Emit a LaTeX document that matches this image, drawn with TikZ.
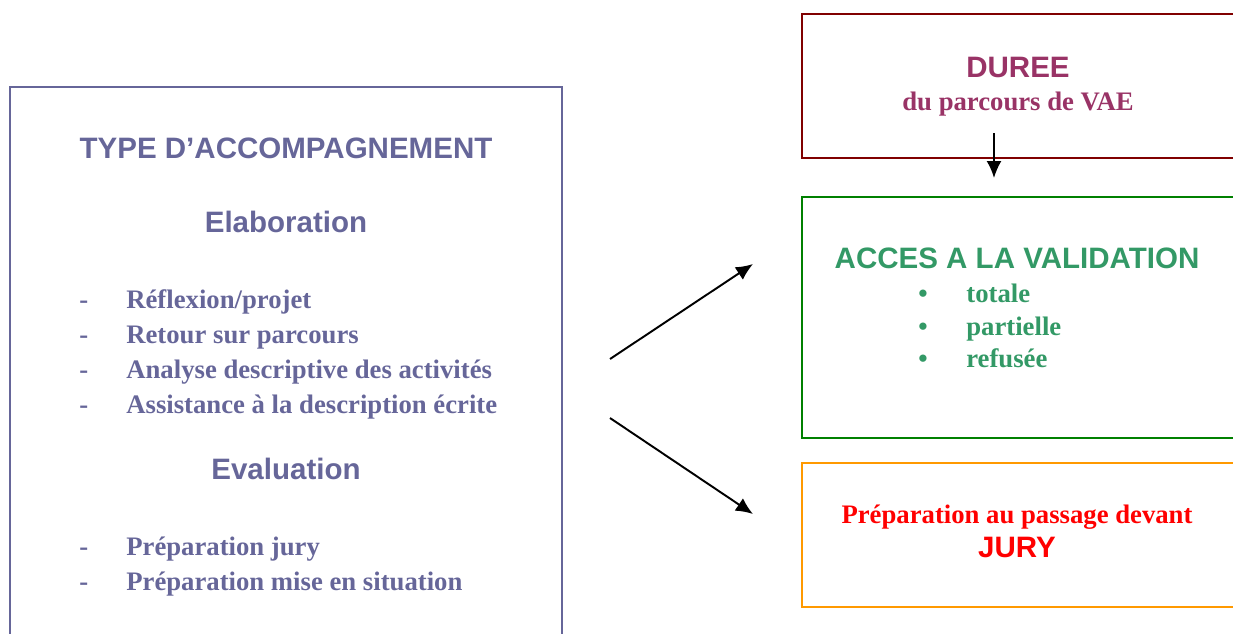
\documentclass[tikz,border=0pt]{standalone}
\usepackage{fontspec}
\setmainfont{Liberation Serif}
\setsansfont{Liberation Sans}
\usepackage{xcolor}
\usetikzlibrary{arrows.meta,positioning}
\definecolor{violetgris}{HTML}{666699}
\definecolor{bordeaux}{HTML}{800000}
\definecolor{prune}{HTML}{993366}
\definecolor{vertfonce}{HTML}{008000}
\definecolor{vertclair}{HTML}{339966}
\definecolor{orange}{HTML}{FF9900}
\definecolor{rouge}{HTML}{FF0000}
\begin{document}
\begin{tikzpicture}[x=0.02cm,y=-0.02cm]
  \tikzset{ boite/.style={draw,line width=1.1pt,inner sep=0pt,minimum width=8.76cm,minimum height=2.88cm},
    titre/.style={anchor=base,inner sep=0pt,font=\sffamily\bfseries\fontsize{16.8}{20}\selectfont},
    ligne/.style={anchor=base west,inner sep=0pt,font=\bfseries\fontsize{15.2}{18}\selectfont},
    tiret/.style={ligne,violetgris},
    fleche/.style={line width=1.1pt,-{Latex[length=0.34cm,width=0.3cm]}},
  }
  \useasboundingbox (0,0) rectangle (1233,633);

  % the boxes
  \node[boite,violetgris,minimum width=11.04cm,minimum height=11.26cm] (acc) at (286,368) {};
  \node[boite,bordeaux] (duree) at (1021,86) {};
  \node[boite,vertfonce,minimum height=4.82cm] (valid) at (1021,317.5) {};
  \node[boite,orange] (jury) at (1021,535) {};

  % left box texts
  \node[titre,violetgris] (type) at (286,158) {TYPE D’ACCOMPAGNEMENT};
  \node[titre,violetgris] (elab) at (286,232) {Elaboration};
  \node[ligne,violetgris] (e1) at (126,308) {Réflexion/projet};
  \node[ligne,violetgris] (e2) at (126,343) {Retour sur parcours};
  \node[ligne,violetgris] (e3) at (126,378) {Analyse descriptive des activités};
  \node[ligne,violetgris] (e4) at (126,413) {Assistance à la description écrite};
  \node[titre,violetgris] (eval) at (286,479) {Evaluation};
  \node[ligne,violetgris] (v1) at (126,555) {Préparation jury};
  \node[ligne,violetgris] (v2) at (126,590) {Préparation mise en situation};
  \foreach \y in {308,343,378,413,555,590}
    \node[tiret] at (79,\y) {-};

  % right boxes texts
  \node[titre,prune] (d1) at (1018,77) {DUREE};
  \node[ligne,anchor=base,prune] (d2) at (1018,110) {du parcours de VAE};
  \node[titre,vertclair] (a1) at (1017,268) {ACCES A LA VALIDATION};
  \node[ligne,vertclair] (a2) at (966,302) {totale};
  \node[ligne,vertclair] (a3) at (966,335) {partielle};
  \node[ligne,vertclair] (a4) at (966,367) {refusée};
  \foreach \y in {302,335,367}
    \node[ligne,anchor=base,vertclair] at (923,\y) {•};
  \node[ligne,anchor=base,rouge] (j1) at (1017,523) {Préparation au passage devant};
  \node[titre,rouge] (j2) at (1017,557) {JURY};

  % the arrows
  \coordinate (o1) at (610,359);
  \coordinate (o2) at (610,418);
  \coordinate (c1) at (753,264);
  \coordinate (c2) at (753,514);
  \coordinate (h1) at (994,133);
  \coordinate (h2) at (994,178);
  \draw[fleche] (o1) -- (c1);
  \draw[fleche] (o2) -- (c2);
  \draw[fleche] (h1) -- (h2);
\end{tikzpicture}
\end{document}
